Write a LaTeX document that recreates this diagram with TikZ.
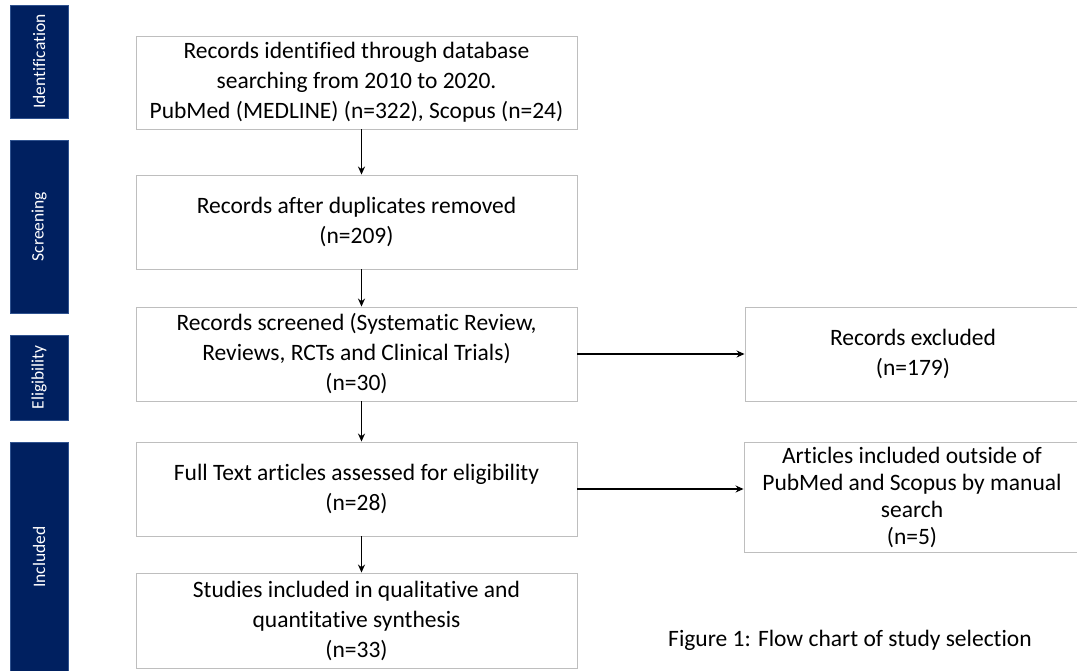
\documentclass[tikz,border=0pt]{standalone}
\usepackage{fontspec}
\setmainfont{Carlito}[RawFeature={-liga;-clig;-calt;-dlig}]
\usepackage{tikz}
\usetikzlibrary{shapes, calc, arrows.meta, positioning}
\definecolor{navy}{RGB}{0,32,96}
\definecolor{navyline}{RGB}{47,82,143}
\definecolor{boxline}{RGB}{190,190,190}
\begin{document}
\begin{tikzpicture}[->,>={Stealth[length=8pt,width=7pt]},x=1pt,y=-1pt,line width=1.4pt,
	font=\fontsize{23.5}{30}\selectfont]
	\tikzset{stage/.style={rectangle, draw=boxline, line width=0.9pt, inner sep=0pt, align=center, minimum width=441pt, minimum height=94pt},
		side/.style={rectangle, draw=boxline, line width=0.9pt, inner sep=0pt, align=center, minimum width=336pt},
		phase/.style={rectangle, fill=navy, draw=navyline, line width=0.8pt, text=white, rotate=90, inner sep=0pt, minimum height=58pt, font=\fontsize{17.5}{22}\selectfont}}
	\useasboundingbox[fill=white] (0,0) rectangle (1077,670);
	% phases on the left
	\node[phase, minimum width=113pt] (ident) at (39,61.5) {Identification};
	\node[phase, minimum width=173pt] (screen) at (39,226.5) {Screening};
	\node[phase, minimum width=85pt] (elig) at (39,377.5) {Eligibility};
	\node[phase, minimum width=230pt] (incl) at (39,557) {Included};
	% main column
	\node[stage, minimum height=93pt] (found) at (356.5,82.5) {Records identified through database\\searching from 2010 to 2020.\\PubMed (MEDLINE) (n=322), Scopus (n=24)};
	\node[stage] (dedup) at (356.5,222) {Records after duplicates removed\\(n=209)};
	\node[stage] (screened) at (356.5,354) {Records screened (Systematic Review,\\Reviews, RCTs and Clinical Trials)\\(n=30)};
	\node[stage] (fulltext) at (356.5,489) {Full Text articles assessed for eligibility\\(n=28)};
	\node[stage, minimum height=95pt] (synth) at (356.5,620.5) {Studies included in qualitative and\\quantitative synthesis\\(n=33)};
	% right column
	\node[side, minimum height=94pt] (excl) at (913,354) {Records excluded\\(n=179)};
	\node[side, minimum height=110pt, font=\fontsize{23.5}{27}\selectfont] (manual) at (912,497) {Articles included outside of\\PubMed and Scopus by manual\\search\\(n=5)};
	\node (caption) at (850,640) {Figure 1: Flow chart of study selection};
	\path
		([xshift=5pt]found.south) edge ([xshift=5pt]dedup.north)
		([xshift=5pt]dedup.south) edge ([xshift=5pt]screened.north)
		([xshift=5pt]screened.south) edge ([xshift=5pt]fulltext.north)
		([xshift=5pt]fulltext.south) edge ([xshift=5pt]synth.north)
		(screened) edge (excl)
		(fulltext) edge (fulltext.east -| manual.west);
\end{tikzpicture}
\end{document}
